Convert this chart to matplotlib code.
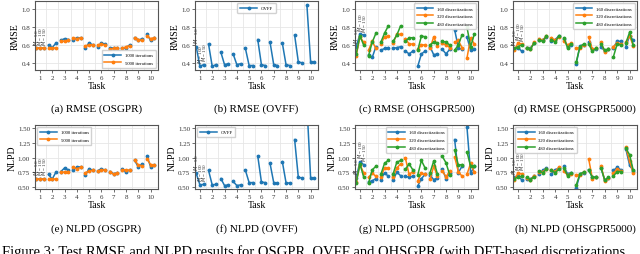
import matplotlib
matplotlib.use('Agg')
import matplotlib.pyplot as plt
import numpy as np

plt.rcParams['font.family'] = ['Liberation Serif', 'DejaVu Serif']

tasks = list(range(1, 11))
m_labels = ['$M$ = 50', '$M$ = 100', '$M$ = 150']
offsets = [-0.3, 0.0, 0.3]

# ---- RMSE ----
rmse_osgpr_1000 = [[0.56, 0.56, 0.56], [0.60, 0.57, 0.62], [0.65, 0.67, 0.66], [0.65, 0.68, 0.68],
                   [0.57, 0.62, 0.60], [0.58, 0.62, 0.61], [0.57, 0.57, 0.57], [0.56, 0.57, 0.60],
                   [0.68, 0.65, 0.67], [0.72, 0.65, 0.68]]
rmse_osgpr_5000 = [[0.56, 0.56, 0.56], [0.56, 0.56, 0.56], [0.64, 0.64, 0.65], [0.68, 0.67, 0.68],
                   [0.59, 0.60, 0.60], [0.60, 0.61, 0.60], [0.55, 0.56, 0.56], [0.56, 0.58, 0.59],
                   [0.68, 0.66, 0.65], [0.70, 0.67, 0.68]]
rmse_ovff = [[0.58, 0.36, 0.38], [0.61, 0.36, 0.38], [0.52, 0.38, 0.39], [0.50, 0.38, 0.39],
             [0.56, 0.37, 0.37], [0.66, 0.38, 0.37], [0.63, 0.38, 0.37], [0.62, 0.38, 0.37],
             [0.71, 0.41, 0.40], [1.04, 0.41, 0.41]]
rmse_oh500_160 = [[0.58, 0.72, 0.71], [0.49, 0.46, 0.58], [0.54, 0.56, 0.57], [0.56, 0.57, 0.58],
                  [0.53, 0.50, 0.53], [0.36, 0.50, 0.53], [0.58, 0.49, 0.50], [0.55, 0.50, 0.55],
                  [0.77, 0.57, 0.55], [0.69, 0.54, 0.55]]
rmse_oh500_320 = [[0.48, 0.69, 0.63], [0.54, 0.64, 0.56], [0.61, 0.69, 0.70], [0.62, 0.72, 0.72],
                  [0.67, 0.61, 0.61], [0.55, 0.60, 0.60], [0.56, 0.69, 0.59], [0.62, 0.60, 0.57],
                  [0.63, 0.65, 0.57], [0.45, 0.68, 0.61]]
rmse_oh500_480 = [[0.50, 0.70, 0.60], [0.48, 0.63, 0.73], [0.63, 0.73, 0.81], [0.64, 0.71, 0.81],
                  [0.64, 0.68, 0.68], [0.54, 0.70, 0.69], [0.60, 0.63, 0.62], [0.64, 0.63, 0.60],
                  [0.54, 0.60, 0.71], [0.80, 0.58, 0.72]]
rmse_oh5000_160 = [[0.55, 0.57, 0.53], [0.57, 0.56, 0.62], [0.65, 0.66, 0.69], [0.64, 0.66, 0.70],
                   [0.67, 0.58, 0.60], [0.39, 0.59, 0.60], [0.63, 0.55, 0.55], [0.58, 0.53, 0.55],
                   [0.57, 0.64, 0.64], [0.58, 0.70, 0.65]]
rmse_oh5000_320 = [[0.54, 0.62, 0.61], [0.56, 0.55, 0.63], [0.67, 0.65, 0.70], [0.68, 0.65, 0.69],
                   [0.64, 0.60, 0.62], [0.56, 0.57, 0.60], [0.69, 0.55, 0.56], [0.63, 0.52, 0.55],
                   [0.58, 0.62, 0.61], [0.63, 0.70, 0.59]]
rmse_oh5000_480 = [[0.56, 0.58, 0.60], [0.56, 0.55, 0.62], [0.66, 0.64, 0.70], [0.66, 0.63, 0.70],
                   [0.68, 0.57, 0.61], [0.41, 0.58, 0.61], [0.61, 0.53, 0.56], [0.61, 0.54, 0.55],
                   [0.47, 0.61, 0.60], [0.62, 0.74, 0.60]]

# ---- NLPD ----
nlpd_osgpr_1000 = [[0.64, 0.64, 0.64], [0.71, 0.63, 0.75], [0.76, 0.82, 0.79], [0.78, 0.84, 0.84],
                   [0.70, 0.81, 0.78], [0.77, 0.81, 0.78], [0.76, 0.72, 0.74], [0.80, 0.75, 0.79],
                   [0.95, 0.84, 0.89], [1.03, 0.84, 0.87]]
nlpd_osgpr_5000 = [[0.64, 0.64, 0.64], [0.64, 0.64, 0.64], [0.75, 0.75, 0.76], [0.83, 0.81, 0.83],
                   [0.74, 0.77, 0.78], [0.77, 0.78, 0.79], [0.76, 0.71, 0.74], [0.79, 0.79, 0.78],
                   [0.96, 0.87, 0.86], [0.98, 0.88, 0.87]]
nlpd_ovff = [[0.73, 0.53, 0.54], [0.78, 0.53, 0.54], [0.64, 0.52, 0.53], [0.59, 0.52, 0.53],
             [0.78, 0.57, 0.57], [1.03, 0.58, 0.57], [0.90, 0.57, 0.56], [0.93, 0.57, 0.56],
             [1.31, 0.66, 0.65], [1.90, 0.65, 0.65]]
nlpd_oh500_160 = [[0.65, 0.93, 0.88], [0.58, 0.60, 0.64], [0.62, 0.74, 0.68], [0.61, 0.75, 0.69],
                  [0.68, 0.66, 0.68], [0.51, 0.64, 0.71], [0.70, 0.62, 0.65], [0.80, 0.64, 0.73],
                  [1.31, 0.74, 0.85], [1.53, 0.73, 0.85]]
nlpd_oh500_320 = [[0.58, 0.88, 0.74], [0.66, 0.73, 0.68], [0.67, 0.82, 0.82], [0.67, 0.82, 0.89],
                  [0.99, 0.71, 0.76], [0.60, 0.73, 0.71], [0.63, 0.85, 0.68], [0.77, 0.67, 0.77],
                  [1.01, 0.76, 0.68], [0.71, 0.90, 0.75]]
nlpd_oh500_480 = [[0.57, 0.89, 0.67], [0.56, 0.79, 0.85], [0.71, 0.90, 0.95], [0.72, 0.92, 0.95],
                  [0.80, 0.89, 0.79], [0.70, 0.95, 0.82], [0.74, 0.94, 0.72], [1.02, 0.91, 0.70],
                  [1.13, 0.87, 0.88], [1.10, 0.85, 0.85]]
nlpd_oh5000_160 = [[0.66, 0.68, 0.62], [0.64, 0.63, 0.68], [0.72, 0.78, 0.82], [0.72, 0.79, 0.82],
                   [0.85, 0.72, 0.74], [0.48, 0.71, 0.74], [0.79, 0.66, 0.67], [0.82, 0.61, 0.65],
                   [0.78, 0.83, 0.79], [1.15, 0.87, 0.77]]
nlpd_oh5000_320 = [[0.62, 0.73, 0.72], [0.65, 0.61, 0.69], [0.76, 0.76, 0.80], [0.79, 0.76, 0.83],
                   [0.77, 0.70, 0.72], [0.70, 0.70, 0.75], [0.98, 0.64, 0.66], [0.86, 0.60, 0.65],
                   [0.73, 0.80, 0.77], [1.18, 0.94, 0.74]]
nlpd_oh5000_480 = [[0.64, 0.66, 0.68], [0.66, 0.62, 0.67], [0.77, 0.74, 0.80], [0.78, 0.74, 0.80],
                   [0.82, 0.69, 0.73], [0.53, 0.72, 0.75], [0.79, 0.66, 0.66], [0.82, 0.61, 0.66],
                   [0.68, 0.76, 0.76], [1.16, 1.05, 0.78]]

iter_labels = ['1000 iterations', '5000 iterations']
disc_labels = ['160 discretizations', '320 discretizations', '480 discretizations']
colors = ['#1f77b4', '#ff7f0e', '#2ca02c']

panels = [
    ('RMSE', '(a) RMSE (OSGPR)', [rmse_osgpr_1000, rmse_osgpr_5000], iter_labels, 'lower right'),
    ('RMSE', '(b) RMSE (OVFF)', [rmse_ovff], ['OVFF'], 'upper center'),
    ('RMSE', '(c) RMSE (OHSGPR500)', [rmse_oh500_160, rmse_oh500_320, rmse_oh500_480], disc_labels, 'upper right'),
    ('RMSE', '(d) RMSE (OHSGPR5000)', [rmse_oh5000_160, rmse_oh5000_320, rmse_oh5000_480], disc_labels, 'upper right'),
    ('NLPD', '(e) NLPD (OSGPR)', [nlpd_osgpr_1000, nlpd_osgpr_5000], iter_labels, 'upper left'),
    ('NLPD', '(f) NLPD (OVFF)', [nlpd_ovff], ['OVFF'], 'upper left'),
    ('NLPD', '(g) NLPD (OHSGPR500)', [nlpd_oh500_160, nlpd_oh500_320, nlpd_oh500_480], disc_labels, 'upper center'),
    ('NLPD', '(h) NLPD (OHSGPR5000)', [nlpd_oh5000_160, nlpd_oh5000_320, nlpd_oh5000_480], disc_labels, 'upper left'),
]

W, H = 640, 255
fig = plt.figure(figsize=(W / 100, H / 100), dpi=100)

col_x = [(35, 158), (195, 318), (355, 478), (513, 637)]
row_y = [(2, 71), (126, 190)]

for i, (metric, caption, series, labels, loc) in enumerate(panels):
    r, c = divmod(i, 4)
    x0, x1 = col_x[c]
    y0, y1 = row_y[r]
    ax = fig.add_axes([x0 / W, 1 - y1 / H, (x1 - x0) / W, (y1 - y0) / H])

    for s, (vals, lab) in enumerate(zip(series, labels)):
        for t, v in zip(tasks, vals):
            xs = [t + o for o in offsets]
            ax.plot(xs, v, '-', marker='.', color=colors[s], lw=1.1, ms=3.5,
                    label=lab if t == 1 else None)

    # M annotations above task 1
    for k, o in enumerate(offsets):
        top = max(vals_[0][k] for vals_ in series)
        ax.annotate(m_labels[k], (1 + o, top), xytext=(0, 2.5), textcoords='offset points',
                    rotation=90, ha='center', va='bottom', fontsize=3.6, color='#333333')

    ax.set_xlim(0.6, 10.6)
    if metric == 'RMSE':
        ax.set_ylim(0.32, 1.09)
        ax.set_yticks([0.4, 0.6, 0.8, 1.0])
        ax.set_yticklabels(['0.4', '0.6', '0.8', '1.0'])
    else:
        ax.set_ylim(0.46, 1.56)
        ax.set_yticks([0.5, 0.75, 1.0, 1.25, 1.5])
        ax.set_yticklabels(['0.50', '0.75', '1.00', '1.25', '1.50'])
    ax.set_xticks(tasks)
    ax.set_xticks([t + 0.5 for t in tasks[:-1]], minor=True)
    ax.grid(True, which='minor', axis='x', color='#e6e6e6', lw=0.6)
    ax.grid(True, which='major', axis='y', color='#e6e6e6', lw=0.6)
    ax.tick_params(axis='both', which='major', labelsize=5, length=2, width=0.5, pad=1.5,
                   colors='#333333')
    ax.tick_params(axis='x', which='minor', length=0)
    for sp in ax.spines.values():
        sp.set_color('#555555')
        sp.set_linewidth(0.8)
    ax.set_xlabel('Task', fontsize=7, labelpad=0.5)
    ax.set_ylabel(metric, fontsize=7, labelpad=1)
    ax.legend(loc=loc, fontsize=3.4, frameon=True, framealpha=0.9, edgecolor='#cccccc',
              handlelength=3.5, borderpad=0.6, labelspacing=0.7)

    cap_y = (109 if r == 0 else 229)
    fig.text((x0 + x1) / 2 / W, 1 - cap_y / H, caption, ha='center', va='center', fontsize=8)

fig.text(2 / W, 1 - 252 / H,
         'Figure 3: Test RMSE and NLPD results for OSGPR, OVFF and OHSGPR (with DFT-based discretizations',
         ha='left', va='center', fontsize=10.5)

fig.savefig('out.png', dpi=100, facecolor='white')
